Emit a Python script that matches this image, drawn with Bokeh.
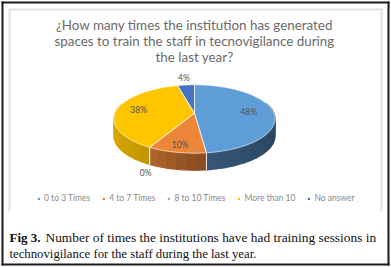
import numpy as np
from bokeh.plotting import figure
from bokeh.models import Range1d, Legend, LegendItem
from bokeh.core.properties import value
from bokeh.embed import file_html
from bokeh.resources import INLINE

categories = ["0 to 3 Times", "4 to 7 Times", "8 to 10 Times", "More than 10", "No answer"]
shares = [48, 10, 0, 38, 4]
share_labels = ["48%", "10%", "0%", "38%", "4%"]
colors = ["#5f9dd8", "#ee8639", "#a5a5a5", "#ffc600", "#4472c4"]
title_lines = ["¿How many times the institution has generated",
               "spaces to train the staff in tecnovigilance during",
               "the last year?"]
caption_bold = "Fig 3."
caption_rest = "Number of times the institutions have had training sessions in"
caption_line2 = "technovigilance for the staff during the last year."

W, H = 391, 267
p = figure(width=W, height=H, output_backend="svg", toolbar_location=None,
           x_range=Range1d(0, W), y_range=Range1d(H, 0),
           min_border=0, x_axis_type=None, y_axis_type=None,
           background_fill_color="white", border_fill_color="white")
p.styles = {"position": "absolute", "left": "0px", "top": "0px"}
p.grid.visible = False
p.outline_line_color = None

# frame
for l, r, t, b, c in [(1, 389, 1, 3, "#1e1a1a"), (1, 3, 1, 265, "#1e1a1a"),
                      (387, 389, 1, 265, "#1e1a1a"), (1, 389, 263, 265, "#1e1a1a"),
                      (8, 382, 8, 10, "#e3e3e3"), (8, 10, 8, 211, "#e3e3e3"),
                      (380, 382, 8, 211, "#e3e3e3")]:
    p.quad(left=l, right=r, top=t, bottom=b, fill_color=c, line_color=None)

# perspective disc
CX, AY, A, B, K, DEPTH = 194.0, 112.7, 33.2, 79.3, 0.1696, 17.0

def disc(theta, r=1.0):
    u, v = r * np.sin(theta), r * np.cos(theta)
    w = 1 + K * v
    return CX + B * u / w, AY - A * v / w

def shade(hex_col, u):
    f = np.interp(u, [-1, -0.48, 0.12, 1], [0.86, 0.75, 0.56, 0.45])
    rgb = [int(hex_col[i:i + 2], 16) for i in (1, 3, 5)]
    return "#%02x%02x%02x" % tuple(int(c * f) for c in rgb)

fractions = np.array(shares, float) / sum(shares)
edges = np.concatenate([[0], np.cumsum(fractions)]) * 2 * np.pi

# side wall, back to front
strips = []
for i in range(len(shares)):
    a0, a1 = edges[i], edges[i + 1]
    if a1 - a0 <= 0:
        continue
    n = max(1, int(round((a1 - a0) / np.radians(6))))
    ts = np.linspace(a0, a1, n + 1)
    for t0, t1 in zip(ts[:-1], ts[1:]):
        tm = (t0 + t1) / 2
        if np.cos(tm) > 0.3:
            continue
        sub = np.linspace(t0, t1, 4)
        x, y = disc(sub)
        strips.append((y.mean(), list(x) + list(x[::-1]),
                       list(y) + list((y + DEPTH)[::-1]), shade(colors[i], np.sin(tm))))
strips.sort(key=lambda s: s[0])
for _, x, y, c in strips:
    p.patch(x, y, fill_color=c, line_color=c, line_width=1.2)

# white seams on the wall
for e in edges[1:-1]:
    if np.cos(e) < 0:
        x, y = disc(np.array([e]))
        p.line([x[0], x[0]], [y[0], y[0] + DEPTH], line_color="white", line_width=0.9)

# top face
renderers = []
outlines = []
for i in range(len(shares)):
    a0, a1 = edges[i], edges[i + 1]
    ts = np.linspace(a0, a1, max(2, int((a1 - a0) * 40)))
    x, y = disc(ts)
    xs = [CX] + list(x)
    ys = [AY] + list(y)
    renderers.append(p.patch(xs, ys, fill_color=colors[i], line_color=None))
    if a1 > a0:
        outlines.append((xs + [CX], ys + [AY]))
for xs, ys in outlines:
    p.line(xs, ys, line_color="white", line_width=0.7, line_alpha=0.85)

# data labels
mids = (edges[:-1] + edges[1:]) / 2
radii = [0.69, 0.83, 1.0, 0.72, 1.31]
shifts = [(0, 0), (0, 0), (-4, 26), (0, 0), (0, 0)]
lx, ly = [], []
for m, r, (dx, dy) in zip(mids, radii, shifts):
    x, y = disc(np.array([m]), r)
    lx.append(x[0] + dx)
    ly.append(y[0] + dy)
p.text(lx, ly, text=share_labels, text_font=value("Lato"), text_font_size="8.5px",
       text_color="#505050", text_align="center", text_baseline="middle")

# title
p.text([194, 194, 194], [24, 40, 56], text=title_lines, text_font=value("Lato"),
       text_font_size="13.4px", text_color="#6a6a6a", text_align="center", text_baseline="middle")

# caption
p.text([9], [237], text=[caption_bold], text_font=value("Liberation Serif"), text_font_style="bold",
       text_font_size="13px", text_color="#111111", text_baseline="middle")
p.text([45], [237], text=[caption_rest], text_font=value("Liberation Serif"),
       text_font_size="13.4px", text_color="#111111", text_baseline="middle")
p.text([9], [253], text=[caption_line2], text_font=value("Liberation Serif"),
       text_font_size="12.75px", text_color="#111111", text_baseline="middle")

legend = Legend(items=[LegendItem(label=c, renderers=[r]) for c, r in zip(categories, renderers)],
                orientation="horizontal", location=(37, 64), border_line_color=None,
                background_fill_alpha=0, label_text_font="Lato", label_text_font_size="8.5px",
                label_text_color="#8a8a8a", glyph_width=3, glyph_height=3, label_standoff=4,
                spacing=12, padding=3, margin=0, label_height=8)
p.add_layout(legend, "center")

open("out.html", "w").write(file_html(p, INLINE))
